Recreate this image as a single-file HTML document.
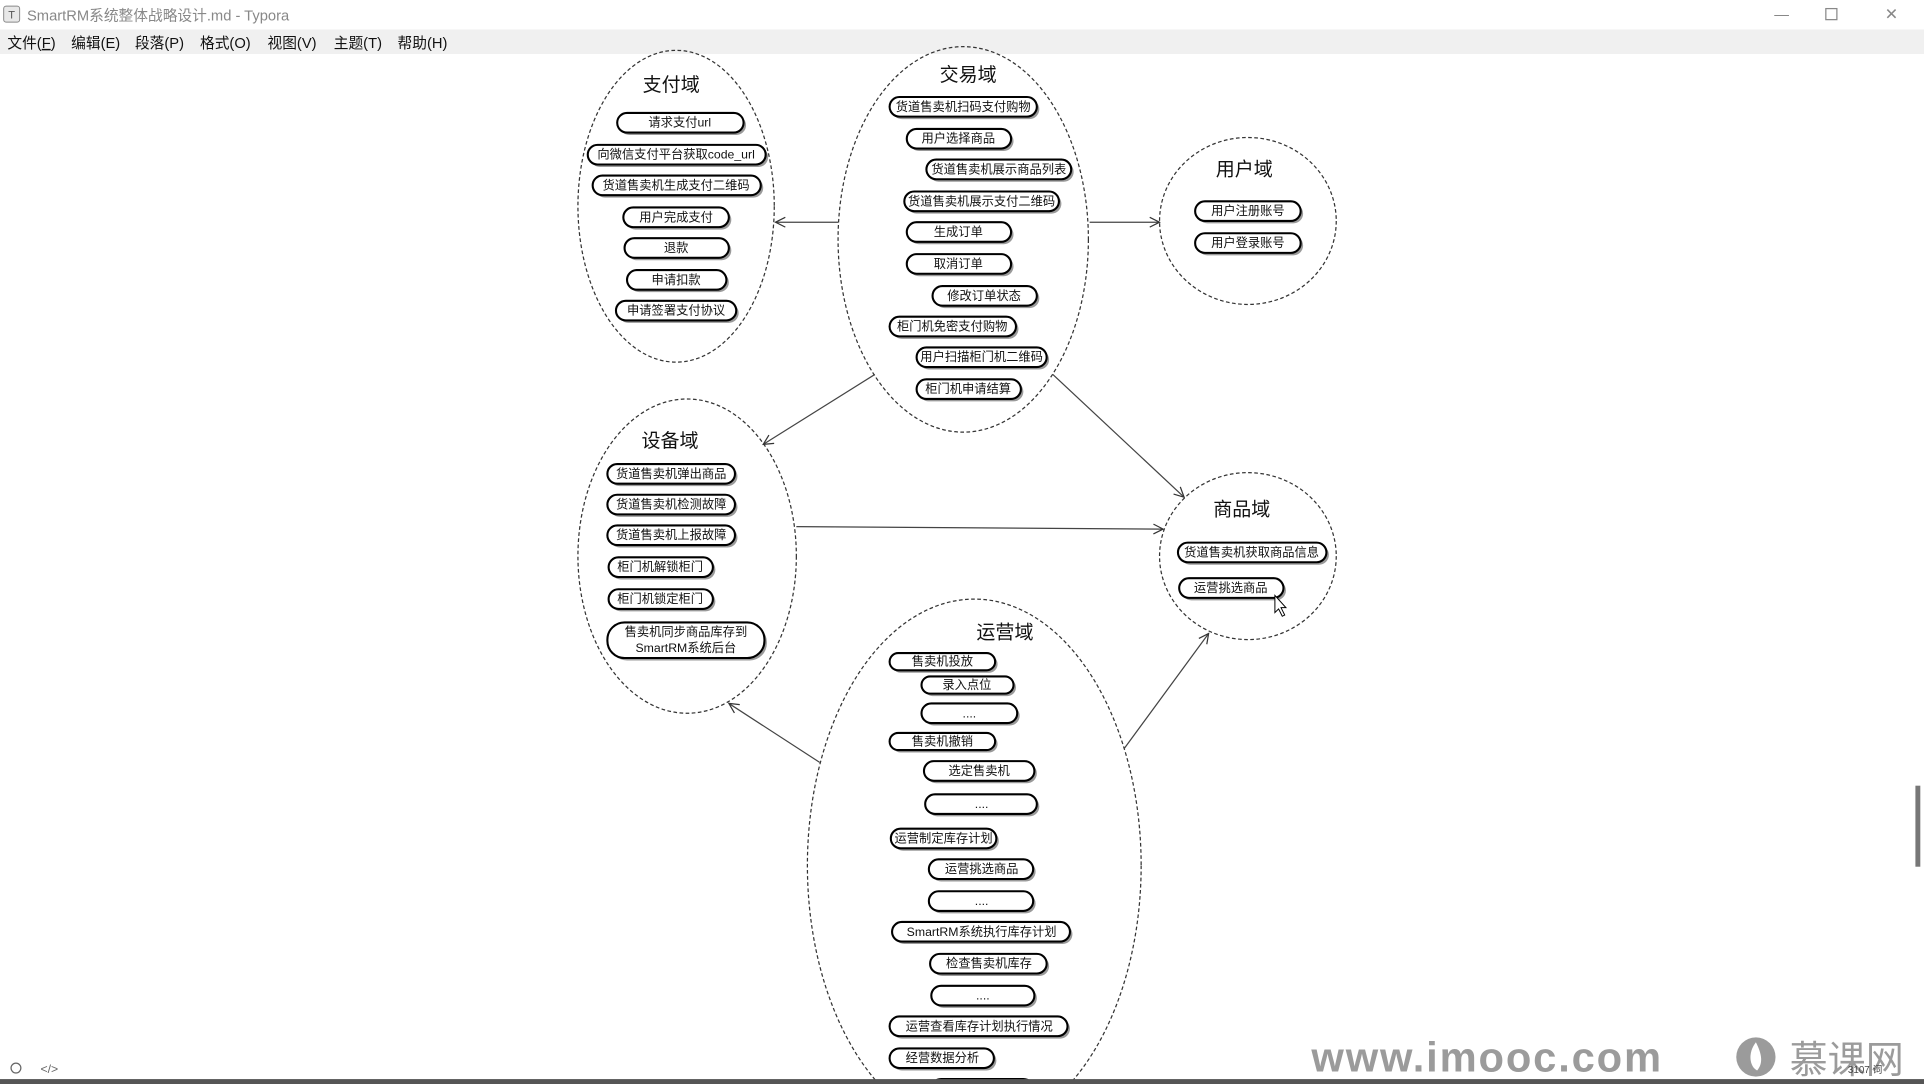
<!DOCTYPE html>
<html><head><meta charset="utf-8"><style>
html,body{margin:0;padding:0;width:1924px;height:1084px;overflow:hidden;background:#fff}
svg{display:block}
text{font-family:"Liberation Sans","Noto Sans CJK SC",sans-serif}
.t{font-size:15.5px;text-anchor:middle;fill:#111}
.p rect.s{fill:#9a9a9a}
.p rect.b{fill:#fff;stroke:#000;stroke-width:1.7}
.p text{font-size:10px;text-anchor:middle;fill:#111;dominant-baseline:central}
.e{fill:none;stroke:#333;stroke-width:1;stroke-dasharray:3 2}
.a{stroke:#444;stroke-width:1;fill:none}
</style></head><body>
<svg width="1924" height="1084" viewBox="0 0 1568 883" preserveAspectRatio="none" xmlns="http://www.w3.org/2000/svg">
<defs>
<marker id="ar" markerWidth="10" markerHeight="10" refX="9" refY="5" orient="auto" markerUnits="userSpaceOnUse"><path d="M1,1 L9,5 L1,9" fill="none" stroke="#333" stroke-width="1"/></marker>
</defs>
<rect x="0" y="0" width="1568" height="24" fill="#fff"/>
<rect x="0" y="24" width="1568" height="20" fill="#f0f0f0"/>
<rect x="3" y="5" width="13" height="13" rx="2" fill="#e8e8e8" stroke="#888" stroke-width="0.8"/>
<text x="9.5" y="15" font-size="9" text-anchor="middle" fill="#555">T</text>
<text x="22" y="16.5" font-size="12" fill="#888">SmartRM系统整体战略设计.md - Typora</text>
<text x="1446" y="16" font-size="12" fill="#888">—</text>
<rect x="1488" y="7" width="9" height="9" fill="none" stroke="#888"/>
<text x="1536" y="16" font-size="13" fill="#888">✕</text>
<text x="6" y="39" font-size="12" fill="#111">文件(<tspan text-decoration="underline">F</tspan>)</text>
<text x="58" y="39" font-size="12" fill="#111">编辑(E)</text>
<text x="110" y="39" font-size="12" fill="#111">段落(P)</text>
<text x="163" y="39" font-size="12" fill="#111">格式(O)</text>
<text x="218" y="39" font-size="12" fill="#111">视图(V)</text>
<text x="272" y="39" font-size="12" fill="#111">主题(T)</text>
<text x="324" y="39" font-size="12" fill="#111">帮助(H)</text>

<ellipse class="e" cx="551" cy="168" rx="80" ry="127"/>
<ellipse class="e" cx="785" cy="195" rx="102" ry="157"/>
<ellipse class="e" cx="1017" cy="180" rx="72" ry="68"/>
<ellipse class="e" cx="560" cy="453" rx="89" ry="128"/>
<ellipse class="e" cx="1017" cy="453" rx="72" ry="68"/>
<ellipse class="e" cx="794" cy="705" rx="136" ry="217"/>

<text class="t" x="547" y="74">支付域</text>
<text class="t" x="789" y="66">交易域</text>
<text class="t" x="1014" y="143">用户域</text>
<text class="t" x="546" y="364">设备域</text>
<text class="t" x="1012" y="420">商品域</text>
<text class="t" x="819" y="520">运营域</text>

<line class="a" x1="683" y1="181" x2="632" y2="181" marker-end="url(#ar)"/>
<line class="a" x1="888" y1="181" x2="945" y2="181" marker-end="url(#ar)"/>
<line class="a" x1="713" y1="305" x2="622" y2="362" marker-end="url(#ar)"/>
<line class="a" x1="858" y1="305" x2="965" y2="405" marker-end="url(#ar)"/>
<line class="a" x1="649" y1="429" x2="948" y2="431" marker-end="url(#ar)"/>
<line class="a" x1="668" y1="621" x2="594" y2="573" marker-end="url(#ar)"/>
<line class="a" x1="916" y1="610" x2="985" y2="516" marker-end="url(#ar)"/>

<g class="p"><rect class="s" x="505" y="94" width="103" height="16" rx="8"/><rect class="b" x="503" y="92" width="103" height="16" rx="8"/><text x="554" y="100">请求支付url</text></g>
<g class="p"><rect class="s" x="481" y="120" width="145" height="16" rx="8"/><rect class="b" x="479" y="118" width="145" height="16" rx="8"/><text x="551" y="126">向微信支付平台获取code_url</text></g>
<g class="p"><rect class="s" x="485" y="145" width="137" height="16" rx="8"/><rect class="b" x="483" y="143" width="137" height="16" rx="8"/><text x="551" y="151">货道售卖机生成支付二维码</text></g>
<g class="p"><rect class="s" x="510" y="171" width="86" height="16" rx="8"/><rect class="b" x="508" y="169" width="86" height="16" rx="8"/><text x="551" y="177">用户完成支付</text></g>
<g class="p"><rect class="s" x="511" y="196" width="85" height="16" rx="8"/><rect class="b" x="509" y="194" width="85" height="16" rx="8"/><text x="551" y="202">退款</text></g>
<g class="p"><rect class="s" x="513" y="222" width="81" height="16" rx="8"/><rect class="b" x="511" y="220" width="81" height="16" rx="8"/><text x="551" y="228">申请扣款</text></g>
<g class="p"><rect class="s" x="504" y="247" width="98" height="16" rx="8"/><rect class="b" x="502" y="245" width="98" height="16" rx="8"/><text x="551" y="253">申请签署支付协议</text></g>

<g class="p"><rect class="s" x="727" y="81" width="120" height="16" rx="8"/><rect class="b" x="725" y="79" width="120" height="16" rx="8"/><text x="785" y="87">货道售卖机扫码支付购物</text></g>
<g class="p"><rect class="s" x="741" y="107" width="85" height="16" rx="8"/><rect class="b" x="739" y="105" width="85" height="16" rx="8"/><text x="781" y="113">用户选择商品</text></g>
<g class="p"><rect class="s" x="757" y="132" width="118" height="16" rx="8"/><rect class="b" x="755" y="130" width="118" height="16" rx="8"/><text x="814" y="138">货道售卖机展示商品列表</text></g>
<g class="p"><rect class="s" x="739" y="158" width="126" height="16" rx="8"/><rect class="b" x="737" y="156" width="126" height="16" rx="8"/><text x="800" y="164">货道售卖机展示支付二维码</text></g>
<g class="p"><rect class="s" x="741" y="183" width="85" height="16" rx="8"/><rect class="b" x="739" y="181" width="85" height="16" rx="8"/><text x="781" y="189">生成订单</text></g>
<g class="p"><rect class="s" x="741" y="209" width="85" height="16" rx="8"/><rect class="b" x="739" y="207" width="85" height="16" rx="8"/><text x="781" y="215">取消订单</text></g>
<g class="p"><rect class="s" x="762" y="235" width="85" height="16" rx="8"/><rect class="b" x="760" y="233" width="85" height="16" rx="8"/><text x="802" y="241">修改订单状态</text></g>
<g class="p"><rect class="s" x="727" y="260" width="103" height="16" rx="8"/><rect class="b" x="725" y="258" width="103" height="16" rx="8"/><text x="776" y="266">柜门机免密支付购物</text></g>
<g class="p"><rect class="s" x="749" y="285" width="106" height="16" rx="8"/><rect class="b" x="747" y="283" width="106" height="16" rx="8"/><text x="800" y="291">用户扫描柜门机二维码</text></g>
<g class="p"><rect class="s" x="749" y="311" width="85" height="16" rx="8"/><rect class="b" x="747" y="309" width="85" height="16" rx="8"/><text x="789" y="317">柜门机申请结算</text></g>

<g class="p"><rect class="s" x="976" y="166" width="86" height="16" rx="8"/><rect class="b" x="974" y="164" width="86" height="16" rx="8"/><text x="1017" y="172">用户注册账号</text></g>
<g class="p"><rect class="s" x="976" y="192" width="86" height="16" rx="8"/><rect class="b" x="974" y="190" width="86" height="16" rx="8"/><text x="1017" y="198">用户登录账号</text></g>

<g class="p"><rect class="s" x="497" y="380" width="104" height="16" rx="8"/><rect class="b" x="495" y="378" width="104" height="16" rx="8"/><text x="547" y="386">货道售卖机弹出商品</text></g>
<g class="p"><rect class="s" x="497" y="405" width="104" height="16" rx="8"/><rect class="b" x="495" y="403" width="104" height="16" rx="8"/><text x="547" y="411">货道售卖机检测故障</text></g>
<g class="p"><rect class="s" x="497" y="430" width="104" height="16" rx="8"/><rect class="b" x="495" y="428" width="104" height="16" rx="8"/><text x="547" y="436">货道售卖机上报故障</text></g>
<g class="p"><rect class="s" x="498" y="456" width="85" height="16" rx="8"/><rect class="b" x="496" y="454" width="85" height="16" rx="8"/><text x="538" y="462">柜门机解锁柜门</text></g>
<g class="p"><rect class="s" x="498" y="482" width="85" height="16" rx="8"/><rect class="b" x="496" y="480" width="85" height="16" rx="8"/><text x="538" y="488">柜门机锁定柜门</text></g>
<g class="p"><rect class="s" x="497" y="509" width="128" height="29" rx="14"/><rect class="b" x="495" y="507" width="128" height="29" rx="14"/><text x="559" y="515">售卖机同步商品库存到</text><text x="559" y="528">SmartRM系统后台</text></g>

<g class="p"><rect class="s" x="962" y="444" width="121" height="16" rx="8"/><rect class="b" x="960" y="442" width="121" height="16" rx="8"/><text x="1020" y="450">货道售卖机获取商品信息</text></g>
<g class="p"><rect class="s" x="963" y="473" width="85" height="16" rx="8"/><rect class="b" x="961" y="471" width="85" height="16" rx="8"/><text x="1003" y="479">运营挑选商品</text></g>
<path d="M1039,485 L1039,499 L1042,496 L1045,502 L1047,501 L1044,495 L1048,495 Z" fill="#fff" stroke="#000" stroke-width="0.8"/>

<g class="p"><rect class="s" x="727" y="534" width="86" height="14" rx="7"/><rect class="b" x="725" y="532" width="86" height="14" rx="7"/><text x="768" y="539">售卖机投放</text></g>
<g class="p"><rect class="s" x="753" y="553" width="75" height="14" rx="7"/><rect class="b" x="751" y="551" width="75" height="14" rx="7"/><text x="788" y="558">录入点位</text></g>
<g class="p"><rect class="s" x="753" y="575" width="78" height="16" rx="8"/><rect class="b" x="751" y="573" width="78" height="16" rx="8"/><text x="790" y="581">....</text></g>
<g class="p"><rect class="s" x="727" y="599" width="86" height="14" rx="7"/><rect class="b" x="725" y="597" width="86" height="14" rx="7"/><text x="768" y="604">售卖机撤销</text></g>
<g class="p"><rect class="s" x="755" y="622" width="90" height="16" rx="8"/><rect class="b" x="753" y="620" width="90" height="16" rx="8"/><text x="798" y="628">选定售卖机</text></g>
<g class="p"><rect class="s" x="756" y="649" width="91" height="16" rx="8"/><rect class="b" x="754" y="647" width="91" height="16" rx="8"/><text x="800" y="655">....</text></g>
<g class="p"><rect class="s" x="728" y="677" width="86" height="16" rx="8"/><rect class="b" x="726" y="675" width="86" height="16" rx="8"/><text x="769" y="683">运营制定库存计划</text></g>
<g class="p"><rect class="s" x="759" y="702" width="85" height="16" rx="8"/><rect class="b" x="757" y="700" width="85" height="16" rx="8"/><text x="800" y="708">运营挑选商品</text></g>
<g class="p"><rect class="s" x="759" y="728" width="85" height="16" rx="8"/><rect class="b" x="757" y="726" width="85" height="16" rx="8"/><text x="800" y="734">....</text></g>
<g class="p"><rect class="s" x="729" y="753" width="145" height="16" rx="8"/><rect class="b" x="727" y="751" width="145" height="16" rx="8"/><text x="800" y="759">SmartRM系统执行库存计划</text></g>
<g class="p"><rect class="s" x="760" y="779" width="95" height="16" rx="8"/><rect class="b" x="758" y="777" width="95" height="16" rx="8"/><text x="806" y="785">检查售卖机库存</text></g>
<g class="p"><rect class="s" x="761" y="805" width="84" height="16" rx="8"/><rect class="b" x="759" y="803" width="84" height="16" rx="8"/><text x="801" y="811">....</text></g>
<g class="p"><rect class="s" x="727" y="830" width="145" height="16" rx="8"/><rect class="b" x="725" y="828" width="145" height="16" rx="8"/><text x="798" y="836">运营查看库存计划执行情况</text></g>
<g class="p"><rect class="s" x="727" y="856" width="85" height="16" rx="8"/><rect class="b" x="725" y="854" width="85" height="16" rx="8"/><text x="768" y="862">经营数据分析</text></g>
<g class="p"><rect class="s" x="761" y="881" width="83" height="16" rx="8"/><rect class="b" x="759" y="879" width="83" height="16" rx="8"/></g>

<rect x="1561" y="640" width="4" height="66" fill="#777"/>
<text x="1212" y="873" font-size="34" font-weight="bold" letter-spacing="1.5" text-anchor="middle" fill="#8a8a8a" opacity="0.85">www.imooc.com</text>
<circle cx="1431" cy="861" r="16" fill="#8a8a8a" opacity="0.85"/>
<path d="M1431,849 C1424,858 1426,869 1432,872 C1437,866 1436,859 1431,849 Z" fill="#fff"/>
<text x="1505" y="874" font-size="31" text-anchor="middle" fill="#8a8a8a" opacity="0.85">慕课网</text>
<text x="1520" y="874" font-size="8" text-anchor="middle" fill="#444">3107 词</text>
<circle cx="13" cy="870" r="4" fill="none" stroke="#666"/>
<text x="33" y="874" font-size="10" fill="#666">&lt;/&gt;</text>
<rect x="0" y="879" width="1568" height="4" fill="#555"/>
</svg>
</body></html>
